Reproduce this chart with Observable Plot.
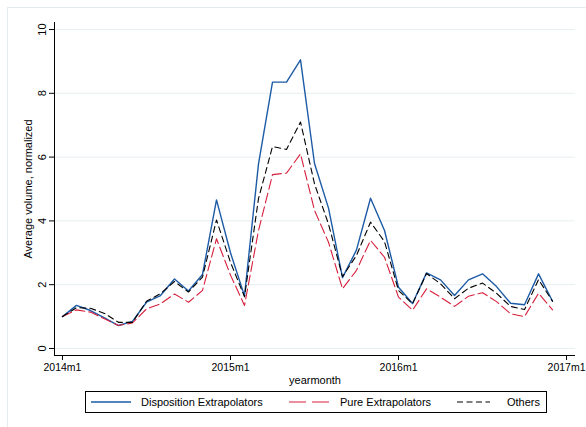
<!DOCTYPE html>
<html><head><meta charset="utf-8">
<script src="https://cdn.jsdelivr.net/npm/d3@7"></script>
<script src="https://cdn.jsdelivr.net/npm/@observablehq/plot@0.6"></script>
<style>
body{margin:0;background:#fff;font-family:"Liberation Sans",Arial,sans-serif;}
#wrap{position:relative;width:586px;height:427px;overflow:hidden;background:#fff;}
#outer{position:absolute;left:7px;top:7px;width:640px;height:480px;border:1px solid #e3ebee;}
#chart{position:absolute;left:0;top:0;}
#legend{position:absolute;left:85px;top:391px;width:462px;height:22px;box-sizing:border-box;border:1px solid #000;background:#fff;font-size:11px;color:#000;}
#legend .it{position:absolute;top:0;height:20px;display:flex;align-items:center;white-space:nowrap;}
#legend svg{display:block;}
</style></head>
<body><div id="wrap"><div id="outer"></div><div id="chart"></div><div id="legend"></div></div>
<script>
// ---- data ----
const months = ["2014m1","2014m2","2014m3","2014m4","2014m5","2014m6","2014m7","2014m8","2014m9","2014m10","2014m11","2014m12",
  "2015m1","2015m2","2015m3","2015m4","2015m5","2015m6","2015m7","2015m8","2015m9","2015m10","2015m11","2015m12",
  "2016m1","2016m2","2016m3","2016m4","2016m5","2016m6","2016m7","2016m8","2016m9","2016m10","2016m11","2016m12"];
const disposition = [1.00,1.35,1.19,0.96,0.72,0.85,1.45,1.66,2.18,1.80,2.32,4.66,
  3.00,1.65,5.79,8.35,8.35,9.05,5.80,4.40,2.22,3.09,4.71,3.70,
  1.92,1.41,2.37,2.15,1.66,2.15,2.34,1.94,1.42,1.37,2.34,1.48];
const pure = [1.00,1.21,1.14,0.93,0.72,0.80,1.24,1.40,1.71,1.45,1.82,3.44,
  2.30,1.35,3.70,5.45,5.50,6.10,4.33,3.33,1.87,2.45,3.39,2.86,
  1.61,1.20,1.87,1.61,1.32,1.64,1.75,1.47,1.09,1.00,1.73,1.21];
const others = [1.00,1.28,1.26,1.10,0.82,0.82,1.48,1.72,2.10,1.77,2.24,4.03,
  2.70,1.62,4.70,6.33,6.24,7.10,5.16,3.90,2.25,2.92,3.96,3.35,
  1.82,1.40,2.35,2.03,1.56,1.89,2.05,1.73,1.32,1.22,2.16,1.48];
const xTickLabels = ["2014m1","2015m1","2016m1","2017m1"];
const yTicks = [0,2,4,6,8,10];
const seriesNames = ["Disposition Extrapolators","Pure Extrapolators","Others"];
const yTitle = "Average volume, normalized";
const xTitle = "yearmonth";

// ---- helpers ----
const toIndex = s => { const [y,m] = s.split("m").map(Number); return (y-2014)*12 + (m-1); };
const rows = months.map((m,i) => ({t: toIndex(m), disp: disposition[i], pure: pure[i], others: others[i]}));
const xTicks = xTickLabels.map(toIndex);

const colBlue = "#1d5ba6", colRed = "#d71f3c", colBlack = "#000";
const xDomain = [-0.57, 36.64];
const yDomain = [-0.22, 10.22];

const chart = Plot.plot({
  width: 586, height: 392,
  marginLeft: 54, marginRight: 11, marginTop: 22, marginBottom: 37,
  x: {domain: xDomain},
  y: {domain: yDomain},
  style: {fontFamily: "'Liberation Sans', Arial, sans-serif", fontSize: "11px", color: "#000", background: "transparent", overflow: "visible"},
  marks: [
    Plot.gridY(yTicks, {stroke: "#e6eff1", strokeOpacity: 1, strokeWidth: 1}),
    Plot.ruleX([xDomain[0]], {stroke: "#000", strokeWidth: 1}),
    Plot.ruleY([yDomain[0]], {stroke: "#000", strokeWidth: 1}),
    Plot.axisY(yTicks, {tickSize: 5, tickFormat: () => "", label: null, stroke: "#000"}),
    Plot.text(yTicks, {y: d => d, text: d => String(d), frameAnchor: "left", dx: -9, rotate: -90, textAnchor: "middle", lineAnchor: "bottom", fontSize: 11, fill: "#000"}),
    Plot.axisX(xTicks, {tickSize: 5, tickPadding: 3, tickFormat: (d,i) => xTickLabels[i], label: null, fontSize: 10.5, stroke: "#000", fill: "#000"}),
    Plot.text([yTitle], {frameAnchor: "left", dx: -26, rotate: -90, textAnchor: "middle", lineAnchor: "middle", fontSize: 11, fill: "#000"}),
    Plot.text([xTitle], {frameAnchor: "bottom", dy: 25, textAnchor: "middle", lineAnchor: "middle", fontSize: 11, fill: "#000"}),
    Plot.line(rows, {x: "t", y: "disp", stroke: colBlue, strokeWidth: 1.4}),
    Plot.line(rows, {x: "t", y: "pure", stroke: colRed, strokeWidth: 1.1, strokeDasharray: "10,4"}),
    Plot.line(rows, {x: "t", y: "others", stroke: colBlack, strokeWidth: 1.1, strokeDasharray: "6,4"})
  ]
});
document.getElementById("chart").appendChild(chart);

// ---- legend ----
const legendItems = [
  {name: seriesNames[0], color: colBlue, dash: null, w: 40, sw: 1.4, left: 5, gap: 10},
  {name: seriesNames[1], color: colRed, dash: "17,6", w: 40, sw: 1.1, left: 203, gap: 11},
  {name: seriesNames[2], color: colBlack, dash: "6,3.5", w: 33, sw: 1.1, left: 371, gap: 17}
];
const leg = d3.select("#legend");
legendItems.forEach(it => {
  const d = leg.append("div").attr("class", "it").style("left", it.left + "px");
  const s = d.append("svg").attr("width", it.w).attr("height", 20);
  s.append("line").attr("x1", 0).attr("x2", it.w).attr("y1", 10).attr("y2", 10)
    .attr("stroke", it.color).attr("stroke-width", it.sw).attr("stroke-dasharray", it.dash);
  d.append("span").style("margin-left", it.gap + "px").text(it.name);
});
</script>
</body></html>
